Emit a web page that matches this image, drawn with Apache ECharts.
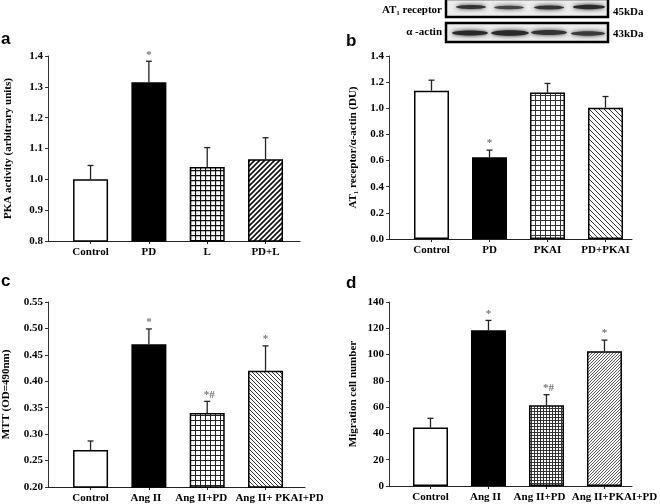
<!DOCTYPE html>
<html><head><meta charset="utf-8">
<script src="https://cdn.jsdelivr.net/npm/echarts@6/dist/echarts.min.js"></script>
<style>html,body{margin:0;padding:0;background:#fff}#c{width:660px;height:504px}</style>
</head><body><div id="c"></div>
<script>
// ---- data ----
const aCats = ['Control', 'PD', 'L', 'PD+L'];
const aVals = [1.00, 1.315, 1.04, 1.065];
const aErr  = [0.045, 0.068, 0.063, 0.070];
const aMarks = ['', '*', '', ''];
const aTicks = {min: 0.8, max: 1.4, interval: 0.1, digits: 1};

const bCats = ['Control', 'PD', 'PKAI', 'PD+PKAI'];
const bVals = [1.135, 0.625, 1.12, 1.005];
const bErr  = [0.08, 0.055, 0.07, 0.085];
const bMarks = ['', '*', '', ''];
const bTicks = {min: 0, max: 1.4, interval: 0.2, digits: 1};

const cCats = ['Control', 'Ang II', 'Ang II+PD', 'Ang II+ PKAI+PD'];
const cVals = [0.27, 0.47, 0.34, 0.42];
const cErr  = [0.017, 0.029, 0.022, 0.047];
const cMarks = ['', '*', '*#', '*'];
const cTicks = {min: 0.2, max: 0.55, interval: 0.05, digits: 2};

const dCats = ['Control', 'Ang II', 'Ang II+PD', 'Ang II+PKAI+PD'];
const dVals = [44.5, 118.5, 61.5, 102.5];
const dErr  = [7, 7.5, 8, 8.5];
const dMarks = ['', '*', '*#', '*'];
const dTicks = {min: 0, max: 140, interval: 20, digits: 0};

// ---- styles ----
const SERIF = '"Liberation Serif", "Times New Roman", serif';
const SANS = '"Liberation Sans", Arial, sans-serif';

function pat(kind, p, lw, col) {
  const c = document.createElement('canvas');
  c.width = p; c.height = p;
  const g = c.getContext('2d');
  g.fillStyle = '#fff'; g.fillRect(0, 0, p, p);
  g.strokeStyle = col; g.lineWidth = lw;
  g.beginPath();
  if (kind === 'grid') {
    g.moveTo(0.5, 0); g.lineTo(0.5, p);
    g.moveTo(0, 0.5); g.lineTo(p, 0.5);
  } else if (kind === '/') {
    g.moveTo(-2, p + 2); g.lineTo(p + 2, -2);
    g.moveTo(-2, 2); g.lineTo(2, -2);
    g.moveTo(p - 2, p + 2); g.lineTo(p + 2, p - 2);
  } else {
    g.moveTo(-2, -2); g.lineTo(p + 2, p + 2);
    g.moveTo(p - 2, -2); g.lineTo(p + 2, 2);
    g.moveTo(-2, p - 2); g.lineTo(2, p + 2);
  }
  g.stroke();
  return {image: c, repeat: 'repeat'};
}

const fillsA = ['#fff', '#000', pat('grid', 5, 1.3, '#111'), pat('/', 5, 1.6, '#111')];
const fillsB = ['#fff', '#000', pat('grid', 5, 1, '#333'), pat('\\', 5, 1, '#333')];
const fillsC = ['#fff', '#000', pat('grid', 5, 1, '#222'), pat('\\', 4, 1, '#333')];
const fillsD = ['#fff', '#000', pat('grid', 3, 1, '#333'), pat('/', 3, 0.9, '#444')];

const grids = [], xAxes = [], yAxes = [], series = [];

function catItem(name, shift) {
  if (!shift) return name;
  const pad = shift > 0 ? [0, 0, 0, 2 * shift] : [0, -2 * shift, 0, 0];
  return {value: name, textStyle: {padding: pad}};
}

function panel(cfg) {
  const gi = grids.length;
  grids.push({left: cfg.axisX, top: cfg.top, width: cfg.frameW, height: cfg.h});
  grids.push({left: cfg.dataL, top: cfg.top, width: cfg.dataW, height: cfg.h});
  xAxes.push({gridIndex: gi, type: 'value', min: 0, max: 1,
    axisLine: {show: true, onZero: false, lineStyle: {color: '#222', width: 1}},
    axisTick: {show: false}, axisLabel: {show: false}, splitLine: {show: false}});
  xAxes.push({gridIndex: gi + 1, type: 'category',
    data: cfg.cats.map((c, i) => catItem(c, (cfg.shifts || [])[i])),
    axisLine: {show: false},
    axisTick: {show: true, alignWithLabel: true, length: 3, lineStyle: {color: '#222'}},
    axisLabel: {interval: 0, fontFamily: SERIF, fontWeight: 'bold', fontSize: 11, color: '#000', margin: 6}});
  yAxes.push({gridIndex: gi, type: 'value', min: cfg.ticks.min, max: cfg.ticks.max, interval: cfg.ticks.interval,
    axisLine: {show: true, lineStyle: {color: '#333', width: 1}},
    axisTick: {show: true, length: 3, lineStyle: {color: '#333'}},
    axisLabel: {fontFamily: SERIF, fontWeight: 'bold', fontSize: 11, color: '#000', margin: 5,
      formatter: v => v.toFixed(cfg.ticks.digits)},
    splitLine: {show: false},
    name: cfg.name, nameLocation: 'middle', nameGap: cfg.nameGap,
    nameTextStyle: {fontFamily: SERIF, fontWeight: 'bold', fontSize: 11, color: '#000'}});
  yAxes.push({gridIndex: gi + 1, type: 'value', min: cfg.ticks.min, max: cfg.ticks.max, show: false});
  series.push({type: 'bar', xAxisIndex: gi + 1, yAxisIndex: gi + 1, barWidth: 35, clip: true,
    silent: true, animation: false,
    itemStyle: {borderColor: '#000', borderWidth: 1.5},
    data: cfg.vals.map((v, i) => ({value: v, itemStyle: {color: cfg.fills[i]}}))});
  const marks = cfg.marks;
  series.push({type: 'custom', xAxisIndex: gi + 1, yAxisIndex: gi + 1, silent: true, animation: false,
    data: cfg.vals.map((v, i) => [i, v, cfg.err[i]]),
    renderItem: (params, api) => {
      const i = api.value(0), v = api.value(1), e = api.value(2);
      const base = api.coord([i, v]);
      const top = api.coord([i, v + e]);
      const kids = [
        {type: 'line', shape: {x1: top[0], y1: base[1], x2: top[0], y2: top[1]}, style: {stroke: '#222', lineWidth: 1.3}},
        {type: 'line', shape: {x1: top[0] - 3, y1: top[1], x2: top[0] + 3, y2: top[1]}, style: {stroke: '#222', lineWidth: 1.3}}
      ];
      const m = marks[params.dataIndex];
      if (m) kids.push({type: 'text', x: top[0] + (m.length > 1 ? 2 : 0), y: top[1] - 1,
        style: {text: m, fill: '#777', font: 'bold 11px ' + SERIF, align: 'center', verticalAlign: 'bottom'}});
      return {type: 'group', children: kids};
    }});
}

panel({axisX: 48, frameW: 252, top: 56, h: 185, dataL: 61.4, dataW: 233.3,
  cats: aCats, vals: aVals, err: aErr, marks: aMarks, ticks: aTicks, fills: fillsA,
  name: 'PKA activity (arbitrary units)', nameGap: 34});
panel({axisX: 389, frameW: 243, top: 56, h: 183, dataL: 402.5, dataW: 232,
  cats: bCats, vals: bVals, err: bErr, marks: bMarks, ticks: bTicks, fills: fillsB,
  name: 'AT₁ receptor/α-actin (DU)', nameGap: 30});
panel({axisX: 48, frameW: 257, top: 302, h: 185, dataL: 61.4, dataW: 233.3,
  cats: cCats, vals: cVals, err: cErr, marks: cMarks, ticks: cTicks, fills: fillsC,
  shifts: [0, -3, -6, 14],
  name: 'MTT (OD=490nm)', nameGap: 36});
panel({axisX: 389, frameW: 243, top: 302, h: 184, dataL: 401.5, dataW: 234,
  cats: dCats, vals: dVals, err: dErr, marks: dMarks, ticks: dTicks, fills: fillsD,
  shifts: [0, -3, -7, 10],
  name: 'Migration cell number', nameGap: 30});

// ---- western blot inset (image-like decoration) ----
const blot = [];
function band(cx, cy, w, h, col) {
  blot.push({type: 'ellipse', shape: {cx: cx, cy: cy, rx: w / 2, ry: h / 2},
    style: {fill: col, shadowBlur: 4, shadowColor: col}, silent: true});
}
blot.push({type: 'rect', shape: {x: 446, y: -1, width: 162, height: 18}, style: {fill: '#ececec', stroke: '#000', lineWidth: 2.5}});
blot.push({type: 'rect', shape: {x: 446, y: 23, width: 162, height: 19}, style: {fill: '#ececec', stroke: '#000', lineWidth: 2.5}});
band(471, 7, 30, 4, '#333'); band(509, 7.5, 30, 3.5, '#444'); band(549, 7.5, 30, 4, '#333'); band(589, 7, 32, 4.5, '#2a2a2a');
band(470, 33, 36, 5, '#2a2a2a'); band(510, 33, 38, 5.5, '#2a2a2a'); band(549, 32.5, 36, 5, '#333'); band(588, 33.5, 34, 4.5, '#3a3a3a');
blot.push({type: 'text', style: {text: 'AT₁ receptor', x: 442, y: 10, align: 'right', verticalAlign: 'middle', font: 'bold 11px ' + SERIF, fill: '#000'}});
blot.push({type: 'text', style: {text: 'α -actin', x: 442, y: 32, align: 'right', verticalAlign: 'middle', font: 'bold 11px ' + SERIF, fill: '#000'}});
blot.push({type: 'text', style: {text: '45kDa', x: 613, y: 12, align: 'left', verticalAlign: 'middle', font: 'bold 11px ' + SERIF, fill: '#000'}});
blot.push({type: 'text', style: {text: '43kDa', x: 613, y: 34, align: 'left', verticalAlign: 'middle', font: 'bold 11px ' + SERIF, fill: '#000'}});

const letters = [['a', 1, 48], ['b', 346, 50], ['c', 1, 290], ['d', 346, 292]].map(l => ({
  type: 'text', style: {text: l[0], x: l[1], y: l[2], align: 'left', verticalAlign: 'bottom', font: 'bold 17px ' + SANS, fill: '#000'}}));

const chart = echarts.init(document.getElementById('c'), null, {renderer: 'canvas'});
chart.setOption({
  animation: false,
  backgroundColor: '#fff',
  grid: grids, xAxis: xAxes, yAxis: yAxes, series: series,
  graphic: blot.concat(letters)
});
</script>
</body></html>
